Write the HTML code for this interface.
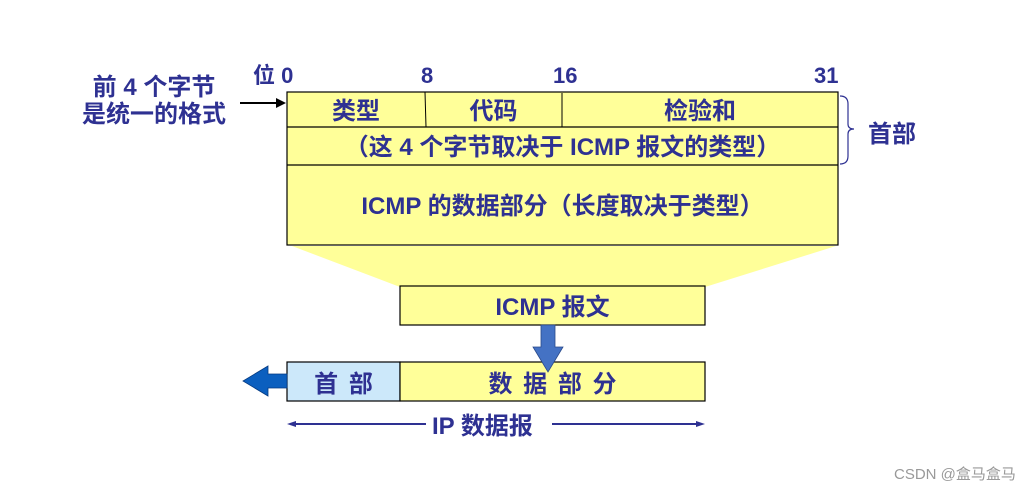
<!DOCTYPE html>
<html><head><meta charset="utf-8"><style>
body{margin:0;width:1030px;height:492px;background:#fff;position:relative;overflow:hidden;font-family:"Liberation Sans","Noto Sans CJK SC",sans-serif;font-weight:bold;color:#2e3192}
.a{position:absolute;white-space:nowrap}
.t{font-size:24px;line-height:24px}
.n{font-size:22px;line-height:22px}
</style></head><body>
<svg class="a" style="left:0;top:0" width="1030" height="492">
<polygon points="292,246 836,246 705,287 400,287" fill="#ffff99"/>
<rect x="287" y="92" width="551" height="153" fill="#ffff99" stroke="#000" stroke-width="1.2"/>
<line x1="287" y1="127" x2="838" y2="127" stroke="#000" stroke-width="1.2"/>
<line x1="287" y1="165" x2="838" y2="165" stroke="#000" stroke-width="1.2"/>
<line x1="425" y1="92" x2="426" y2="127" stroke="#000" stroke-width="1"/>
<line x1="562" y1="93" x2="562" y2="127" stroke="#000" stroke-width="1"/>
<rect x="400" y="286" width="305" height="39" fill="#ffff99" stroke="#000" stroke-width="1.2"/>
<rect x="287" y="362" width="113" height="39" fill="#cce8fa" stroke="#000" stroke-width="1.2"/>
<rect x="400" y="362" width="305" height="39" fill="#ffff99" stroke="#000" stroke-width="1.2"/>
<polygon points="541,325 555,325 555,347 563,347 548,372 533,347 541,347" fill="#4472c4" stroke="#2a4a8a" stroke-width="0.8"/>
<polygon points="287,374 268,374 268,366 243,381 268,396 268,388 287,388" fill="#0b5fbf" stroke="#063a80" stroke-width="0.8"/>
<line x1="240" y1="103" x2="278" y2="103" stroke="#000" stroke-width="2"/>
<polygon points="286,103 276,98 276,108" fill="#000"/>
<path d="M840,96 q8,0 8,8 v20 q0,5 6,5 q-6,0 -6,5 v22 q0,8 -8,8" fill="none" stroke="#2e3192" stroke-width="1.2"/>
<line x1="292" y1="424" x2="426" y2="424" stroke="#2e3192" stroke-width="2"/>
<line x1="552" y1="424" x2="700" y2="424" stroke="#2e3192" stroke-width="2"/>
<polygon points="287,424 296,421 296,427" fill="#2e3192"/>
<polygon points="705,424 696,421 696,427" fill="#2e3192"/>
</svg>
<div class="a t" style="left:82px;top:74px;line-height:27px;text-align:center">前 4 个字节<br>是统一的格式</div>
<div class="a n" style="left:253px;top:65px">位 0</div>
<div class="a n" style="left:421px;top:65px">8</div>
<div class="a n" style="left:553px;top:65px">16</div>
<div class="a n" style="left:814px;top:65px">31</div>
<div class="a t" style="left:868px;top:123px">首部</div>
<div class="a t" style="left:287px;width:138px;top:100px;text-align:center">类型</div>
<div class="a t" style="left:425px;width:137px;top:100px;text-align:center">代码</div>
<div class="a t" style="left:562px;width:276px;top:100px;text-align:center">检验和</div>
<div class="a t" style="left:287px;width:551px;top:136px;text-align:center">（这 4 个字节取决于 ICMP 报文的类型）</div>
<div class="a t" style="left:287px;width:551px;top:195px;text-align:center">ICMP 的数据部分（长度取决于类型）</div>
<div class="a t" style="left:400px;width:305px;top:296px;text-align:center">ICMP 报文</div>
<div class="a t" style="left:287px;width:113px;top:373px;text-align:center;word-spacing:4px">首 部</div>
<div class="a t" style="left:400px;width:305px;top:373px;text-align:center;word-spacing:4px">数 据 部 分</div>
<div class="a t" style="left:432px;top:415px">IP 数据报</div>
<div class="a" style="left:894px;top:463px;font-size:15px;font-weight:normal;color:#999">CSDN @盒马盒马</div>
</body></html>
